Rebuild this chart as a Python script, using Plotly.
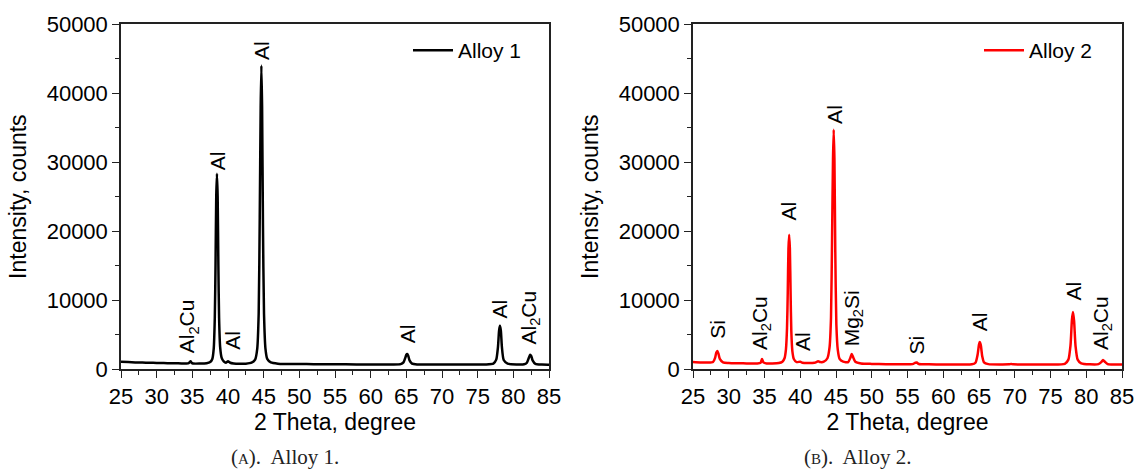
import plotly.graph_objects as go

# ---------------- data ----------------
alloy1_theta = [25, 26, 27, 28, 29, 30, 31, 32, 33, 34,
                34.4, 34.6, 34.75, 34.9, 35.1, 36, 37, 37.5, 37.8, 38.0,
                38.15, 38.25, 38.35, 38.45, 38.55, 38.65, 38.75, 38.9, 39.1, 39.4,
                39.7, 40.0, 40.3, 40.8, 41.5, 42.5, 43.3, 43.8, 44.1, 44.3,
                44.45, 44.58, 44.68, 44.78, 44.9, 45.05, 45.25, 45.5, 46, 47,
                48, 50, 52, 55, 58, 61, 63, 64.2, 64.6, 64.85,
                65.0, 65.12, 65.25, 65.45, 65.8, 66.5, 70, 73, 76, 77.2,
                77.6, 77.85, 78.0, 78.12, 78.25, 78.4, 78.65, 79.2, 80.5, 81.5,
                81.9, 82.15, 82.35, 82.5, 82.7, 83.1, 84, 85]
alloy1_counts = [1100, 1050, 1000, 980, 950, 920, 900, 880, 860, 840,
                 850, 1000, 1150, 950, 840, 830, 880, 1050, 1500, 3000,
                 7500, 15000, 25000, 28300, 25000, 15000, 7500, 3200, 1700, 1150,
                 950, 1150, 950, 850, 800, 820, 950, 1400, 3000, 8000,
                 22000, 38000, 44000, 38000, 21000, 8000, 3000, 1500, 1000, 820,
                 780, 760, 740, 720, 710, 700, 700, 750, 1000, 1650,
                 2100, 2200, 2000, 1300, 820, 700, 680, 680, 700, 820,
                 1400, 3300, 5600, 6300, 5600, 3200, 1350, 820, 700, 720,
                 950, 1600, 2100, 1950, 1300, 780, 680, 670]

alloy2_theta = [25, 26, 27, 27.8, 28.1, 28.25, 28.4, 28.55, 28.75, 29.2,
                30, 31, 32, 33, 34, 34.45, 34.65, 34.85, 35.3, 36,
                37, 37.5, 37.8, 38.0, 38.15, 38.25, 38.35, 38.45, 38.55, 38.65,
                38.75, 38.9, 39.1, 39.5, 40.0, 40.3, 41, 42, 42.5, 42.8,
                43.3, 43.8, 44.1, 44.3, 44.45, 44.58, 44.68, 44.78, 44.9, 45.05,
                45.25, 45.5, 46, 46.7, 47.0, 47.2, 47.4, 47.7, 48.5, 50,
                52, 54, 55.7, 56.1, 56.3, 56.6, 58, 60, 62, 64,
                64.5, 64.8, 65.0, 65.1, 65.25, 65.45, 65.7, 66.3, 68, 69.2,
                69.5, 69.8, 72, 75, 77, 77.5, 77.8, 78.0, 78.15, 78.3,
                78.5, 78.8, 79.3, 80.5, 81.7, 82.1, 82.35, 82.6, 83, 84, 85]
alloy2_counts = [1050, 1000, 980, 1050, 1700, 2400, 2650, 2300, 1500, 1000,
                 920, 880, 860, 850, 850, 950, 1500, 1000, 850, 850,
                 900, 1100, 1600, 2900, 6000, 11000, 17500, 19500, 17500, 11000,
                 5500, 2600, 1500, 1050, 1100, 950, 900, 950, 1150, 1050,
                 1100, 1600, 3200, 7500, 19000, 30500, 34700, 30500, 17000, 6500,
                 2800, 1500, 1100, 1050, 1650, 2200, 1750, 1100, 850, 780,
                 740, 720, 750, 950, 980, 760, 720, 700, 700, 720,
                 950, 2100, 3600, 3950, 3500, 1900, 1000, 750, 700, 720,
                 780, 720, 700, 700, 800, 1400, 3500, 7200, 8300, 7000,
                 3400, 1400, 860, 720, 740, 1050, 1350, 1100, 760, 700, 690]

labels1 = ["Al<sub>2</sub>Cu", "Al", "Al", "Al", "Al", "Al", "Al<sub>2</sub>Cu"]
labels1_theta = [34.5, 38.45, 40.6, 44.7, 65.1, 78.1, 82.2]
labels1_counts = [2000, 28600, 2500, 44500, 3400, 7100, 3300]

labels2 = ["Si", "Al<sub>2</sub>Cu", "Al", "Al", "Al", "Mg<sub>2</sub>Si", "Si", "Al", "Al", "Al<sub>2</sub>Cu"]
labels2_theta = [28.4, 34.5, 40.4, 38.4, 44.7, 47.3, 56.3, 65.1, 78.15, 82.2]
labels2_counts = [4100, 2500, 2300, 21300, 35300, 3100, 1900, 5250, 9600, 2500]

x_ticks = [25, 30, 35, 40, 45, 50, 55, 60, 65, 70, 75, 80, 85]
y_ticks = [0, 10000, 20000, 30000, 40000, 50000]
y_tick_text = ["0", "10000", "20000", "30000", "40000", "50000"]

# ---------------- figure ----------------
W, H = 1142, 475
FONT = "Liberation Sans, Arial, sans-serif"
FS_TICK = 22
FS_TITLE = 23
FS = 21

fig = go.Figure()
fig.add_trace(go.Scatter(x=alloy1_theta, y=alloy1_counts, mode="lines", name="Alloy 1",
                         line=dict(color="black", width=2.5, shape="spline", smoothing=0.6),
                         xaxis="x", yaxis="y", legend="legend"))
fig.add_trace(go.Scatter(x=alloy2_theta, y=alloy2_counts, mode="lines", name="Alloy 2",
                         line=dict(color="#ff0000", width=2.5, shape="spline", smoothing=0.6),
                         xaxis="x2", yaxis="y2", legend="legend2"))

def px_x(p):
    return p / W

def px_y(p):
    return 1 - p / H

dom_y = [px_y(369.3), px_y(24)]
axis_common = dict(showgrid=False, zeroline=False, showline=True, mirror=True,
                   linecolor="#222", linewidth=1.5, ticks="outside", ticklen=7,
                   tickwidth=1.3, tickcolor="#222", automargin=False,
                   tickfont=dict(family=FONT, size=FS_TICK, color="black"),
                   minor=dict(ticks="outside", ticklen=4, tickwidth=1.2, tickcolor="#222"))

xa = dict(axis_common, range=[25, 85], tickvals=x_ticks, ticktext=[str(v) for v in x_ticks],
          title=dict(text="2 Theta, degree", font=dict(family=FONT, size=FS_TITLE, color="black"), standoff=4))
xa["minor"] = dict(axis_common["minor"], dtick=2.5, tick0=25)
ya = dict(axis_common, range=[0, 50000], tickvals=y_ticks, ticktext=y_tick_text,
          title=dict(text="Intensity, counts", font=dict(family=FONT, size=FS_TITLE, color="black"), standoff=14))
ya["minor"] = dict(axis_common["minor"], dtick=5000, tick0=0)

fig.update_layout(
    width=W, height=H, margin=dict(l=0, r=0, t=0, b=0, autoexpand=False),
    paper_bgcolor="white", plot_bgcolor="white",
    xaxis=dict(xa, domain=[px_x(121), px_x(549)], anchor="y"),
    yaxis=dict(ya, domain=dom_y, anchor="x"),
    xaxis2=dict(xa, domain=[px_x(693), px_x(1122)], anchor="y2"),
    yaxis2=dict(ya, domain=dom_y, anchor="x2"),
    legend=dict(x=px_x(408), y=px_y(30), xanchor="left", yanchor="top",
                bgcolor="rgba(0,0,0,0)", font=dict(family=FONT, size=FS, color="black"),
                itemwidth=40, tracegroupgap=0),
    legend2=dict(x=px_x(979), y=px_y(30), xanchor="left", yanchor="top",
                 bgcolor="rgba(0,0,0,0)", font=dict(family=FONT, size=FS, color="black"),
                 itemwidth=40, tracegroupgap=0),
    showlegend=True,
)

annotations = []
for t, xv, yv in zip(labels1, labels1_theta, labels1_counts):
    annotations.append(dict(text=t, x=xv, y=yv, xref="x", yref="y", textangle=-90,
                            showarrow=False, xanchor="center", yanchor="bottom",
                            font=dict(family=FONT, size=FS, color="black")))
for t, xv, yv in zip(labels2, labels2_theta, labels2_counts):
    annotations.append(dict(text=t, x=xv, y=yv, xref="x2", yref="y2", textangle=-90,
                            showarrow=False, xanchor="center", yanchor="bottom",
                            font=dict(family=FONT, size=FS, color="black")))

CAP_FONT = dict(family="Liberation Serif, DejaVu Serif, serif", size=21, color="#222")
annotations.append(dict(text="(<span style='font-size:15px'>A</span>).  Alloy 1.",
                        x=px_x(285), y=px_y(457), xref="paper", yref="paper",
                        xanchor="center", yanchor="middle",
                        showarrow=False, font=CAP_FONT))
annotations.append(dict(text="(<span style='font-size:15px'>B</span>).  Alloy 2.",
                        x=px_x(857), y=px_y(457), xref="paper", yref="paper",
                        xanchor="center", yanchor="middle",
                        showarrow=False, font=CAP_FONT))
fig.update_layout(annotations=annotations)

fig.write_html("out.html", config={"displayModeBar": False},
               post_script="document.body.style.margin='0';")
